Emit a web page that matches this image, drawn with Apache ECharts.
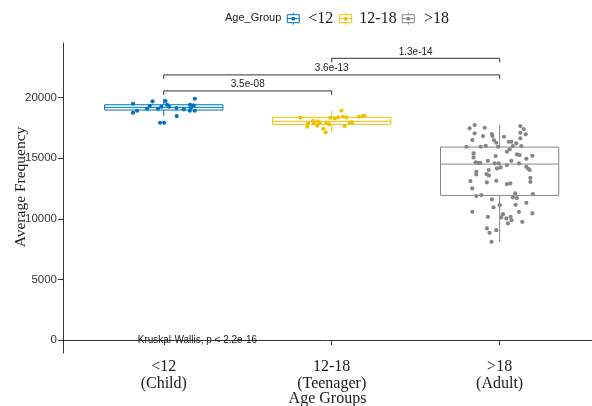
<!DOCTYPE html>
<html>
<head>
<meta charset="utf-8">
<script src="https://cdn.jsdelivr.net/npm/echarts@6/dist/echarts.min.js"></script>
<style>
  html, body { margin: 0; padding: 0; background: #fff; }
  #chart { width: 592px; height: 406px; }
</style>
</head>
<body>
<div id="chart"></div>
<script>
// Age groups, axis labels and palette
const groups = ['<12', '12-18', '>18'];
const groupLabels = ['<12\n(Child)', '12-18\n(Teenager)', '>18\n(Adult)'];
const colors = ['#0073C2', '#EFC000', '#868686'];
const yTicks = [0, 5000, 10000, 15000, 20000];

// Individual observations: horizontal jitter (in category units) and average frequency
const childJitter = [-0.183, -0.183, -0.159, -0.099, -0.083, -0.067, -0.034, -0.014, -0.022, 0.002, 0.010,
  0.020, 0.032, 0.076, 0.077, 0.119, 0.157, 0.161, 0.155, 0.179, 0.185, 0.185];
const childFreq = [19495, 18752, 18917, 19082, 19305, 19693, 19082, 19247, 17927, 17927, 19718,
  19412, 19247, 19140, 18480, 19033, 19412, 19140, 18917, 19363, 18917, 19907];

const teenJitter = [-0.186, -0.145, -0.141, -0.111, -0.105, -0.082, -0.085, -0.071, -0.049, -0.036, -0.032,
  -0.016, -0.008, 0.018, 0.038, 0.058, 0.067, 0.088, 0.077, 0.107, 0.121, 0.163, 0.186, 0.196];
const teenFreq = [18340, 17597, 17903, 18092, 17878, 18043, 17680, 17903, 17432, 17135, 17903,
  17820, 18340, 18290, 18373, 18917, 18423, 18373, 17655, 17928, 17960, 18423, 18480, 18505];

const adultJitter = [-0.149, -0.179, -0.089, 0.123, 0.143, -0.149, -0.046, -0.099, -0.043, 0.123,
  0.155, -0.163, 0.026, -0.034, -0.020, 0.054, 0.070, 0.123, 0.099, -0.198,
  -0.113, -0.083, -0.010, 0.079, 0.129, 0.060, 0.043, -0.155, -0.024, 0.103,
  0.119, 0.195, -0.155, 0.159, -0.143, -0.127, -0.115, -0.070, -0.030, -0.006,
  0.070, 0.043, 0.115, -0.016, 0.006, -0.065, 0.159, 0.171, 0.179, -0.139,
  -0.139, -0.079, -0.064, 0.183, -0.174, -0.076, -0.020, 0.183, 0.043, 0.064,
  -0.163, -0.139, -0.109, 0.093, 0.079, 0.103, 0.198, -0.046, 0.159, 0.000,
  -0.036, 0.095, -0.163, 0.115, 0.195, 0.020, -0.070, 0.040, 0.010, 0.065,
  0.071, 0.049, 0.135, -0.076, -0.020, -0.060, -0.048];
const adultFreq = [17738, 17465, 17515, 17655, 17408, 17053, 16995, 16830, 16830, 17102,
  16970, 16500, 16772, 16500, 16277, 16360, 16360, 16640, 16228, 15947,
  15947, 16030, 15947, 16005, 16005, 15733, 15535, 15403, 15180, 15320,
  15263, 15205, 15073, 14957, 14660, 14627, 14627, 14792, 14578, 14578,
  14792, 14438, 14578, 14165, 14248, 14025, 14297, 14132, 14025, 13885,
  13670, 13695, 13588, 13390, 13118, 13010, 13142, 13060, 12870, 12928,
  12515, 11880, 11963, 12103, 11773, 11715, 12045, 11608, 11327, 11138,
  10948, 11162, 10585, 10585, 10453, 10395, 10172, 10040, 10123, 10172,
  9900, 9628, 9760, 9215, 9075, 8852, 8110];

// Box-plot summaries per group
const whiskerLow = [18480, 17135, 8110];
const lowerQuartile = [18975, 17795, 11938];
const median = [19198, 18043, 14520];
const upperQuartile = [19412, 18373, 15923];
const whiskerHigh = [19907, 18917, 17760];

// Pairwise comparison brackets
const bracketFrom = [1, 1, 2];
const bracketTo = [2, 3, 3];
const bracketHeight = [20550, 21870, 23240];
const bracketLabel = ['3.5e-08', '3.6e-13', '1.3e-14'];

const globalTest = 'Kruskal-Wallis, p < 2.2e-16';
const globalTestPos = [0.845, 0];

const SERIF = "'Liberation Serif', 'Times New Roman', serif";
const SANS = "'Liberation Sans', Arial, sans-serif";
const BOX_HALF = 0.352;
const TIP = 330;

const chart = echarts.init(document.getElementById('chart'), null, { renderer: 'canvas' });

const jitters = [childJitter, teenJitter, adultJitter];
const freqs = [childFreq, teenFreq, adultFreq];

const boxData = groups.map((g, i) => [i + 1, whiskerLow[i], lowerQuartile[i], median[i], upperQuartile[i], whiskerHigh[i]]);

const pointSeries = groups.map((g, i) => ({
  name: g,
  type: 'scatter',
  z: 3,
  symbolSize: 4.2,
  itemStyle: { color: colors[i], opacity: 1 },
  data: jitters[i].map((d, k) => [i + 1 + d, freqs[i][k]]),
  silent: true
}));

const option = {
  animation: false,
  backgroundColor: '#ffffff',
  grid: { left: 63, right: 0, top: 43, bottom: 53, containLabel: false },
  xAxis: {
    type: 'value',
    min: 0.4,
    max: 3.55,
    splitLine: { show: false },
    axisLine: { show: true, lineStyle: { color: '#333', width: 1 } },
    axisTick: { show: true, customValues: [1, 2, 3], length: 5, lineStyle: { color: '#333' } },
    axisLabel: {
      customValues: [1, 2, 3],
      formatter: v => groupLabels[Math.round(v) - 1],
      fontFamily: SERIF, fontSize: 16, color: '#1a1a1a', lineHeight: 17, margin: 5, align: 'center'
    }
  },
  yAxis: {
    type: 'value',
    min: -1050,
    max: 24500,
    splitLine: { show: false },
    axisLine: { show: true, lineStyle: { color: '#333', width: 1 } },
    axisTick: { show: true, customValues: yTicks, length: 5, lineStyle: { color: '#333' } },
    axisLabel: {
      customValues: yTicks,
      formatter: v => String(Math.round(v)),
      fontFamily: SANS, fontSize: 11.5, color: '#333', margin: 6
    }
  },
  graphic: [
    { type: 'text', left: 225, top: 12, style: { text: 'Age_Group', font: `11px ${SANS}`, fill: '#1a1a1a' } },
    ...groups.flatMap((g, i) => {
      const cx = [293.3, 345.7, 408.3][i];
      const tx = [308.3, 359.3, 424][i];
      const cy = 18.7;
      return [
        { type: 'line', shape: { x1: cx, y1: cy - 6, x2: cx, y2: cy + 6 }, style: { stroke: colors[i], lineWidth: 1 } },
        { type: 'rect', shape: { x: cx - 6, y: cy - 4, width: 12, height: 8 }, style: { fill: '#fff', stroke: colors[i], lineWidth: 1 } },
        { type: 'line', shape: { x1: cx - 6, y1: cy, x2: cx + 6, y2: cy }, style: { stroke: colors[i], lineWidth: 1 } },
        { type: 'circle', shape: { cx: cx, cy: cy, r: 1.9 }, style: { fill: colors[i] } },
        { type: 'text', x: tx, y: cy, style: { text: g, font: `16px ${SERIF}`, fill: '#1a1a1a', verticalAlign: 'middle' } }
      ];
    }),
    { type: 'text', x: 327.5, y: 398.5, style: { text: 'Age Groups', font: `16px ${SERIF}`, fill: '#1a1a1a', align: 'center', verticalAlign: 'middle' } },
    { type: 'text', x: 20.7, y: 187, rotation: Math.PI / 2, style: { text: 'Average Frequency', font: `15.5px ${SERIF}`, fill: '#1a1a1a', align: 'center', verticalAlign: 'middle' } }
  ],
  series: [
    {
      type: 'custom',
      name: 'box',
      z: 2,
      silent: true,
      data: boxData,
      renderItem: (params, api) => {
        const c = api.value(0);
        const col = colors[params.dataIndex];
        const top = api.coord([c - BOX_HALF, api.value(4)]);
        const bot = api.coord([c + BOX_HALF, api.value(2)]);
        const mid = api.coord([c, api.value(3)]);
        const lo = api.coord([c, api.value(1)]);
        const hi = api.coord([c, api.value(5)]);
        const st = { stroke: col, lineWidth: 1, fill: null };
        return {
          type: 'group',
          children: [
            { type: 'line', shape: { x1: hi[0], y1: hi[1], x2: hi[0], y2: top[1] }, style: st },
            { type: 'line', shape: { x1: lo[0], y1: bot[1], x2: lo[0], y2: lo[1] }, style: st },
            { type: 'rect', shape: { x: top[0], y: top[1], width: bot[0] - top[0], height: bot[1] - top[1] }, style: { stroke: col, lineWidth: 1, fill: '#fff' } },
            { type: 'line', shape: { x1: top[0], y1: mid[1], x2: bot[0], y2: mid[1] }, style: st }
          ]
        };
      }
    },
    ...pointSeries,
    {
      type: 'custom',
      name: 'brackets',
      z: 4,
      silent: true,
      data: bracketFrom.map((f, i) => [f, bracketTo[i], bracketHeight[i]]),
      renderItem: (params, api) => {
        const a = api.coord([api.value(0), api.value(2)]);
        const b = api.coord([api.value(1), api.value(2)]);
        const aTip = api.coord([api.value(0), api.value(2) - TIP]);
        const bTip = api.coord([api.value(1), api.value(2) - TIP]);
        return {
          type: 'group',
          children: [
            { type: 'polyline', shape: { points: [[aTip[0], aTip[1]], [a[0], a[1]], [b[0], b[1]], [bTip[0], bTip[1]]] }, style: { stroke: '#333', lineWidth: 1, fill: null } },
            { type: 'text', x: (a[0] + b[0]) / 2, y: a[1] - 1.5, style: { text: bracketLabel[params.dataIndex], font: `10px ${SANS}`, fill: '#1a1a1a', align: 'center', verticalAlign: 'bottom' } }
          ]
        };
      }
    },
    {
      type: 'custom',
      name: 'globalTest',
      z: 4,
      silent: true,
      data: [globalTestPos],
      renderItem: (params, api) => {
        const p = api.coord([api.value(0), api.value(1)]);
        return { type: 'text', x: p[0], y: p[1], style: { text: globalTest, font: `10px ${SANS}`, fill: '#1a1a1a', align: 'left', verticalAlign: 'middle' } };
      }
    }
  ]
};

chart.setOption(option);
</script>
</body>
</html>
